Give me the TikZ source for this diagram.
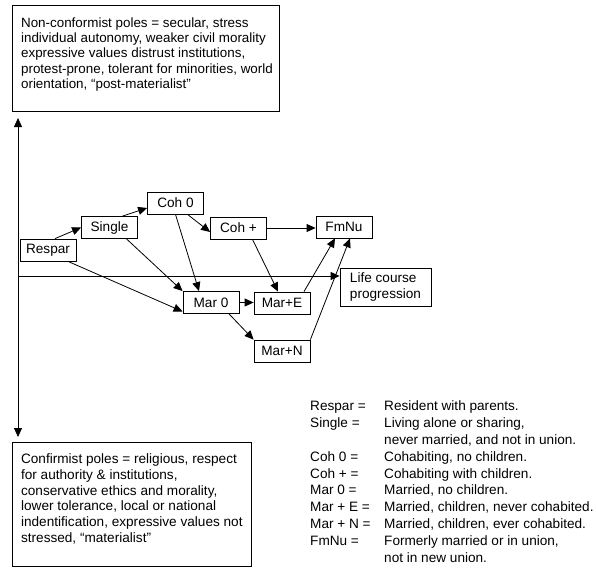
\documentclass[tikz,border=0pt]{standalone}
\usepackage{fontspec}
\setmainfont{Liberation Sans}
\usetikzlibrary{arrows.meta}
\begin{document}
\begin{tikzpicture}[x=1pt,y=-1pt,
  every node/.style={font=\fontsize{13.6}{15.5}\selectfont},
  state/.style={draw, line width=0.8pt, minimum width=56pt, minimum height=22pt, inner sep=2pt},
  pole/.style={draw, line width=0.8pt, anchor=north west, inner xsep=8.7pt},
  arr/.style={-{Triangle[length=9pt,width=8pt]}, line width=0.8pt},
  darr/.style={{Triangle[length=9pt,width=8pt]}-{Triangle[length=9pt,width=8pt]}, line width=0.8pt}]
\useasboundingbox (0,0) rectangle (596,567);

% the two poles
\node[pole, inner ysep=11pt, font=\fontsize{13.4}{15.3}\selectfont] (nonconf) at (12,5) {\parbox[c][84pt][t]{250pt}{\raggedright\strut
  Non-conformist poles = secular, stress\\
  individual autonomy, weaker civil morality\\
  expressive values distrust institutions,\\
  \mbox{protest-prone, tolerant for minorities, world}\\
  orientation, “post-materialist”}};
\node[pole, inner ysep=10pt, font=\fontsize{13.6}{15.8}\selectfont] (conf) at (12,442) {\parbox[c][104pt][t]{222pt}{\raggedright\strut
  Confirmist poles = religious, respect\\
  for authority \& institutions,\\
  conservative ethics and morality,\\
  lower tolerance, local or national\\
  indentification, expressive values not\\
  stressed, “materialist”}};

% axes
\coordinate (axtop) at (18,118);
\coordinate (axbot) at (18,437);
\coordinate (origin) at (18,276);
\node[draw, line width=0.8pt, align=left, minimum width=91pt, minimum height=38pt,
  font=\fontsize{13.6}{16.5}\selectfont] (life) at (385.5,287) {Life course\\progression};
\draw[darr] (axtop) -- (axbot);
\draw[arr] (origin) -- (origin -| life.west);

% states
\node[state] (respar) at (48,250) {Respar};
\node[state] (single) at (109.5,227.5) {Single};
\node[state] (coh0) at (175.5,203) {Coh 0};
\node[state] (cohp) at (238.5,228) {Coh +};
\node[state] (mar0) at (211,302.5) {Mar 0};
\node[state] (marE) at (282,303) {Mar+E};
\node[state] (marN) at (282,351) {Mar+N};
\node[state] (fmnu) at (344,227) {FmNu};

\draw[arr] ([xshift=7pt]respar.north) -- (single.west);
\draw[arr] ([xshift=13pt]single.north) -- ([yshift=-5pt]coh0.west);
\draw[arr] ([xshift=12pt]coh0.south) -- ([yshift=-4pt]cohp.west);
\draw[arr] (coh0.south) -- ([xshift=-12pt]mar0.north);
\draw[arr] ([xshift=17pt]single.south) -- (mar0.north west);
\draw[arr] ([xshift=20pt]respar.south) -- ([yshift=-9pt]mar0.west);
\draw[arr] ([xshift=14pt]cohp.south) -- ([xshift=-4pt]marE.north);
\draw[arr] (cohp.east) -- (cohp.east -| fmnu.west);
\draw[arr] (mar0.east) -- (mar0.east -| marE.west);
\draw[arr] ([xshift=18pt]mar0.south) -- (marN.north west);
\draw[arr] ([xshift=22pt]marE.north) -- ([xshift=-9pt]fmnu.south);
\draw[arr] (marN.north east) -- ([xshift=6pt]fmnu.south);

% key
\node[anchor=north west, inner sep=0pt, font=\fontsize{13.6}{16.8}\selectfont] (key) at (310,399) {%
  \begin{tabular}{@{}p{74pt}@{}l@{}}
  Respar = & Resident with parents.\\
  Single = & Living alone or sharing,\\
           & never married, and not in union.\\
  Coh 0 = & Cohabiting, no children.\\
  Coh + = & Cohabiting with children.\\
  Mar 0 = & Married, no children.\\
  Mar + E = & Married, children, never cohabited.\\
  Mar + N = & Married, children, ever cohabited.\\
  FmNu = & Formerly married or in union,\\
         & not in new union.
  \end{tabular}};
\end{tikzpicture}
\end{document}
